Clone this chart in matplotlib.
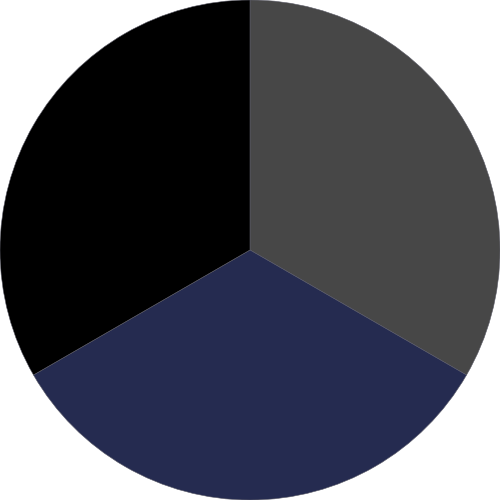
import matplotlib
matplotlib.use("Agg")
import matplotlib.pyplot as plt

# slice data, clockwise from 12 o'clock
labels = ["A", "B", "C"]
values = [1, 1, 1]
colors = ["#474747", "#252b50", "#000000"]

fig = plt.figure(figsize=(5, 5), dpi=100)
ax = fig.add_axes([0, 0, 1, 1])
ax.pie(values, colors=colors, startangle=90, counterclock=False,
       radius=1.0, wedgeprops={"linewidth": 0.4, "edgecolor": "#5a5a66"})
ax.set_xlim(-1, 1)
ax.set_ylim(-1, 1)
ax.set_aspect("equal")
ax.axis("off")

fig.savefig("out.png", dpi=100, facecolor="white")
